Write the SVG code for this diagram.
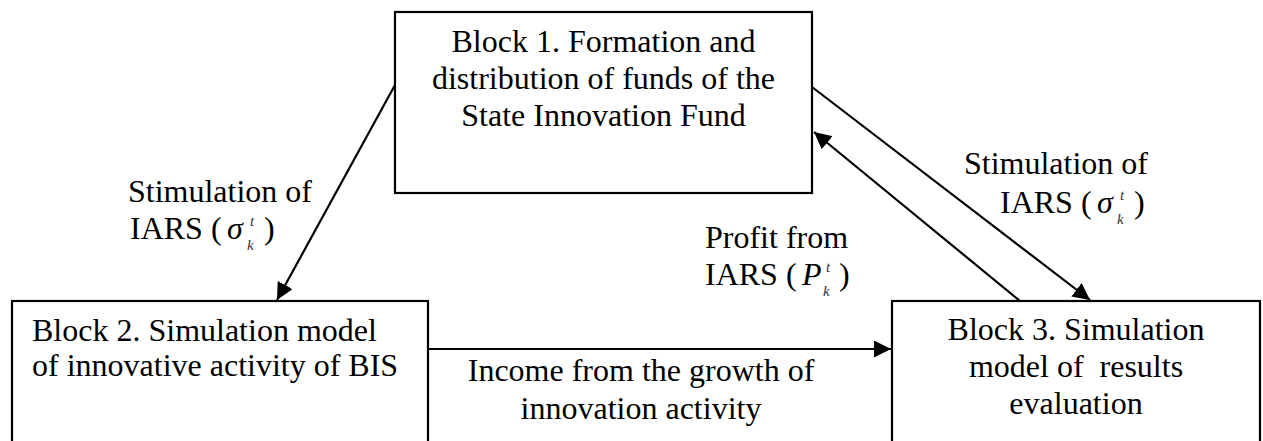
<svg xmlns="http://www.w3.org/2000/svg" width="1263" height="441" viewBox="0 0 1263 441">
<style>
.box{fill:#fff;stroke:#000;stroke-width:2.2}
.t{font-family:"Liberation Serif","Times New Roman",serif;font-size:32px;fill:#000}
.c{text-anchor:middle}
.m{font-family:"Liberation Serif","Times New Roman",serif;font-style:italic;font-size:32px;fill:#000}
.s{font-family:"Liberation Serif","Times New Roman",serif;font-style:italic;font-size:15px;fill:#333}
.ln{stroke:#000;stroke-width:2.2;fill:none;marker-end:url(#ah)}
</style>
<defs>
<marker id="ah" markerUnits="userSpaceOnUse" markerWidth="18" markerHeight="17" refX="17" refY="8.5" orient="auto">
<path d="M0,0 L17,8.5 L0,17 z" fill="#000"/>
</marker>
</defs>
<rect width="1263" height="441" fill="#fff"/>
<g id="block1">
<rect class="box" x="395" y="12" width="417" height="181"/>
<text class="t c" x="603.5" y="52">Block 1. Formation and</text>
<text class="t c" x="603.5" y="89">distribution of funds of the</text>
<text class="t c" x="603.5" y="126">State Innovation Fund</text>
</g>
<g id="block2">
<rect class="box" x="12" y="301" width="416" height="160"/>
<text class="t" x="32" y="341">Block 2. Simulation model</text>
<text class="t" x="32" y="376">of innovative activity of BIS</text>
</g>
<g id="block3">
<rect class="box" x="892" y="301" width="368" height="160"/>
<text class="t c" x="1076" y="340">Block 3. Simulation</text>
<text class="t c" x="1076" y="377" xml:space="preserve">model of  results</text>
<text class="t c" x="1076" y="414">evaluation</text>
</g>
<g id="connectors">
<line class="ln" x1="395" y1="85" x2="277" y2="300"/>
<line class="ln" x1="812" y1="87" x2="1090" y2="300"/>
<line class="ln" x1="1020" y1="301" x2="814" y2="132"/>
<line class="ln" x1="428" y1="349" x2="891" y2="349"/>
</g>
<g id="labels">
<text class="t" x="128" y="202">Stimulation of</text>
<text class="t" x="130" y="239">IARS (</text>
<text class="m" x="227" y="239">σ</text>
<text class="s" x="250" y="226">t</text>
<text class="s" x="247" y="250">k</text>
<text class="t" x="264" y="239">)</text>

<text class="t" x="964" y="174">Stimulation of</text>
<text class="t" x="1000" y="213">IARS (</text>
<text class="m" x="1097" y="213">σ</text>
<text class="s" x="1120" y="200">t</text>
<text class="s" x="1117" y="224">k</text>
<text class="t" x="1134" y="213">)</text>

<text class="t" x="705" y="248">Profit from</text>
<text class="t" x="705" y="285">IARS (</text>
<text class="m" x="802" y="285">P</text>
<text class="s" x="826" y="272">t</text>
<text class="s" x="823" y="296">k</text>
<text class="t" x="839" y="285">)</text>

<text class="t c" x="641" y="381">Income from the growth of</text>
<text class="t c" x="641" y="419">innovation activity</text>
</g>
</svg>
